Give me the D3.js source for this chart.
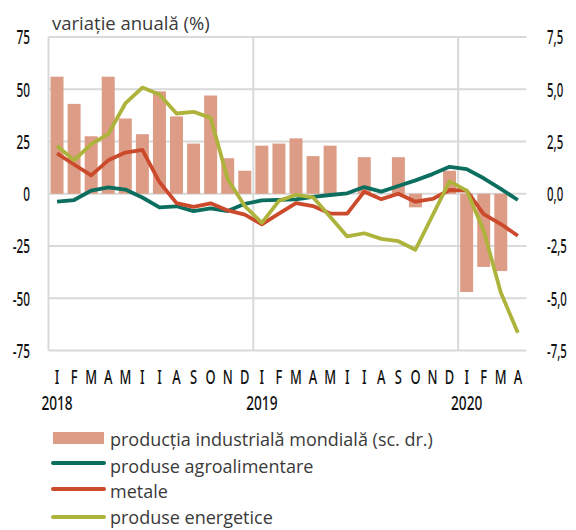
<!DOCTYPE html>
<html><head><meta charset="utf-8">
<script src="https://cdn.jsdelivr.net/npm/d3@7"></script>
<style>
html,body{margin:0;padding:0;background:#fff;}
svg{display:block;}
.tick-l{font-family:"Noto Sans",sans-serif;font-size:19px;font-weight:500;fill:#111;}
.reg{font-family:"Open Sans",sans-serif;fill:#3a3a3a;}
</style></head>
<body>
<svg id="c" width="576" height="530"></svg>
<script>
const monthLabels = ["I","F","M","A","M","I","I","A","S","O","N","D",
                     "I","F","M","A","M","I","I","A","S","O","N","D",
                     "I","F","M","A"];
const yearLabels = [{i:0,t:"2018"},{i:12,t:"2019"},{i:24,t:"2020"}];
const leftTicks = [75,50,25,0,-25,-50,-75];
const rightTicks = [7.5,5,2.5,0,-2.5,-5,-7.5];

// productia industriala mondiala (sc. dr.)
const industrial = [5.6,4.3,2.75,5.6,3.6,2.85,4.9,3.7,2.4,4.7,1.7,1.1,
                    2.3,2.4,2.65,1.8,2.3,0,1.75,0,1.75,-0.65,0,1.1,
                    -4.7,-3.5,-3.7,null];
// produse agroalimentare
const agro = [-3.8,-3,1.5,3,2,-1.8,-6.5,-6,-8.3,-7,-8.3,-4.8,
              -3.2,-2.9,-2.7,-1.5,-0.6,0.2,3.2,1,3.7,6.4,9.4,12.9,
              11.8,7.4,2.3,-3];
// metale
const metals = [19.3,14,8.8,16,19.7,21,5.6,-4.5,-6.3,-4.6,-8,-10,
                -14.6,-9.5,-4.5,-5.9,-9.5,-9.5,1,-2.6,0,-3.8,-2.5,1.8,
                1.5,-9.7,-14.5,-20.1];
// produse energetice
const energy = [22.9,16,23.7,28.5,43.2,50.8,47.5,38.4,39.2,36.3,6.9,-5.9,
                -13.9,-3.4,-0.5,-1.7,-11,-20.4,-18.9,-21.6,-22.7,-26.8,-10.4,5.9,
                1.5,-17.7,-47.3,-66.5];

const colors = {bar:"#dc9c85", agro:"#0b6e5e", metals:"#cc4a2c", energy:"#adb33b", grid:"#d9d9d9"};

const svg = d3.select("#c");
const L = 48.5, R = 526.4, T = 37, B = 350.5;
const idx = d3.range(monthLabels.length);
const x = d3.scaleBand().domain(idx).range([L,R]).paddingInner(0.24).paddingOuter(0.12);
const xc = i => x(i) + x.bandwidth()/2;
const y = d3.scaleLinear().domain([-75,75]).range([B,T]);
const y2 = d3.scaleLinear().domain([-7.5,7.5]).range([B,T]);

// horizontally condense text nodes placed at x=0 of their parent
function condense(sel, k){
  sel.attr("x",0).attr("transform",`scale(${k},1)`);
}

// grid
const g = svg.append("g");
g.selectAll("line.h").data(leftTicks).join("line")
  .attr("x1",L).attr("x2",R).attr("y1",d=>y(d)).attr("y2",d=>y(d))
  .attr("stroke",colors.grid).attr("stroke-width",2);
const step = (R-L)/monthLabels.length;
g.selectAll("line.v").data([0,12,24]).join("line")
  .attr("x1",d=>L+d*step).attr("x2",d=>L+d*step).attr("y1",T).attr("y2",B)
  .attr("stroke",colors.grid).attr("stroke-width",2);

// bars
svg.append("g").selectAll("rect").data(industrial.map((v,i)=>({v,i})).filter(d=>d.v!==null && d.v!==0)).join("rect")
  .attr("x",d=>x(d.i)).attr("width",x.bandwidth())
  .attr("y",d=>y2(Math.max(0,d.v))).attr("height",d=>Math.abs(y2(d.v)-y2(0)))
  .attr("fill",colors.bar);

// lines
const line = d3.line().x((d,i)=>xc(i)).y(d=>y(d));
[[agro,colors.agro],[metals,colors.metals],[energy,colors.energy]].forEach(([s,c])=>{
  svg.append("path").datum(s).attr("d",line).attr("fill","none")
    .attr("stroke",c).attr("stroke-width",3.8).attr("stroke-linejoin","round");
});

// axes labels
const axL = d3.axisLeft(y).tickValues(leftTicks).tickSize(0).tickPadding(0).tickFormat(d3.format("d"));
const gl = svg.append("g").attr("transform",`translate(30,0)`).call(axL);
gl.select(".domain").remove();
gl.attr("font-family",null).attr("font-size",null);
gl.selectAll("text").attr("class","tick-l").attr("fill",null).attr("dy","0.36em")
  .text(d=>d3.format("d")(d).replace("−","-"));
condense(gl.selectAll("text"),0.62);

const fmtR = d => d3.format(".1f")(d).replace(".",",").replace("−","-");
const axR = d3.axisRight(y2).tickValues(rightTicks).tickSize(0).tickPadding(0).tickFormat(fmtR);
const gr = svg.append("g").attr("transform",`translate(547,0)`).call(axR);
gr.select(".domain").remove();
gr.attr("font-family",null).attr("font-size",null);
gr.selectAll("text").attr("class","tick-l").attr("fill",null).attr("dy","0.36em");
condense(gr.selectAll("text"),0.6);

const axB = d3.axisBottom(x).tickSize(0).tickPadding(0).tickFormat(i=>monthLabels[i]);
const gb = svg.append("g").attr("transform",`translate(0,384)`).call(axB);
gb.select(".domain").remove();
gb.attr("font-family",null).attr("font-size",null);
gb.selectAll("text").attr("class","tick-l").attr("fill",null).attr("dy",0).attr("y",0);
condense(gb.selectAll("text"),0.68);

const yl = svg.append("g").selectAll("g").data(yearLabels).join("g")
  .attr("transform",d=>`translate(${xc(d.i)},410)`)
  .append("text").attr("class","tick-l").attr("y",0).attr("text-anchor","middle").text(d=>d.t);
condense(yl,0.72);

// title
svg.append("text").attr("class","reg").attr("font-size",18.5).attr("x",52).attr("y",30).text("variație anuală (%)");

// legend
const leg = svg.append("g");
leg.append("rect").attr("x",53).attr("y",432).attr("width",51).attr("height",12).attr("fill",colors.bar);
const legItems = [
  {t:"producția industrială mondială (sc. dr.)", y:446},
  {t:"produse agroalimentare", y:473, c:colors.agro, ly:463},
  {t:"metale", y:498, c:colors.metals, ly:489},
  {t:"produse energetice", y:524, c:colors.energy, ly:517}
];
legItems.forEach(d=>{
  if(d.c) leg.append("line").attr("x1",53).attr("x2",104).attr("y1",d.ly).attr("y2",d.ly)
     .attr("stroke",d.c).attr("stroke-width",4).attr("stroke-linecap","round");
  leg.append("text").attr("class","reg").attr("font-size",18).attr("x",110).attr("y",d.y).text(d.t);
});
</script>
</body></html>
